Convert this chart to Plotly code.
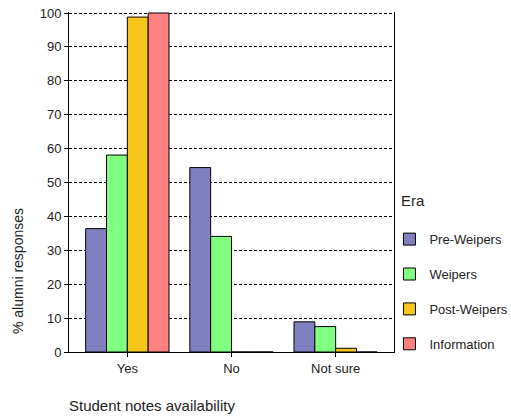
import plotly.graph_objects as go

categories = ["Yes", "No", "Not sure"]
eras = ["Pre-Weipers", "Weipers", "Post-Weipers", "Information"]
pre_weipers = [36.4, 54.4, 8.9]
weipers = [58.1, 34.1, 7.5]
post_weipers = [98.8, 0, 1.1]
information = [100, 0, 0]
series = [pre_weipers, weipers, post_weipers, information]
colors = ["#8080c0", "#80ff80", "#f8c51c", "#ff8080"]

fig = go.Figure()
for name, vals, col in zip(eras, series, colors):
    fig.add_trace(go.Bar(
        x=categories, y=vals, name=name, legendgroup=name,
        marker=dict(color=col, line=dict(color="black", width=1)),
    ))

font = "Liberation Sans, Arial, sans-serif"
fig.update_layout(
    width=511, height=419,
    margin=dict(l=69, r=117, t=12, b=67, autoexpand=False),
    paper_bgcolor="white", plot_bgcolor="white",
    barmode="group", bargap=0.2, bargroupgap=0,
    font=dict(family=font, size=13, color="#222"),
    showlegend=True,
    legend=dict(
        x=0.986, xanchor="left", y=0.376, yanchor="top",
        traceorder="grouped", tracegroupgap=15,
        font=dict(size=13),
        bgcolor="rgba(0,0,0,0)",
    ),
    xaxis=dict(
        range=[-0.56, 2.56], showline=True, linecolor="black", linewidth=1,
        ticks="outside", ticklen=4, tickcolor="black",
        showgrid=False, zeroline=False,
    ),
    yaxis=dict(
        range=[0, 100.3], tickvals=list(range(0, 101, 10)), showline=True, mirror=True,
        linecolor="black", linewidth=1,
        ticks="outside", ticklen=4, tickcolor="black",
        showgrid=True, gridcolor="black", gridwidth=1, griddash="3px,2px",
        zeroline=False,
    ),
)
fig.add_annotation(
    text="% alumni responses", xref="paper", yref="paper",
    x=-0.157, y=0.238, xanchor="center", yanchor="middle", textangle=-90,
    showarrow=False, font=dict(size=14, family=font, color="#222"),
)
fig.add_annotation(
    text="Era", xref="paper", yref="paper",
    x=1.016, y=0.447, xanchor="left", yanchor="middle", showarrow=False,
    font=dict(size=15, family=font, color="#222"),
)
fig.add_annotation(
    text="Student notes availability", xref="paper", yref="paper",
    x=-0.006, y=-0.156, xanchor="left", yanchor="middle", showarrow=False,
    font=dict(size=15, family=font, color="#222"),
)
fig.write_html(
    "out.html",
    config={"displayModeBar": False},
    post_script="document.body.style.margin='0';document.body.style.overflow='hidden';",
)
